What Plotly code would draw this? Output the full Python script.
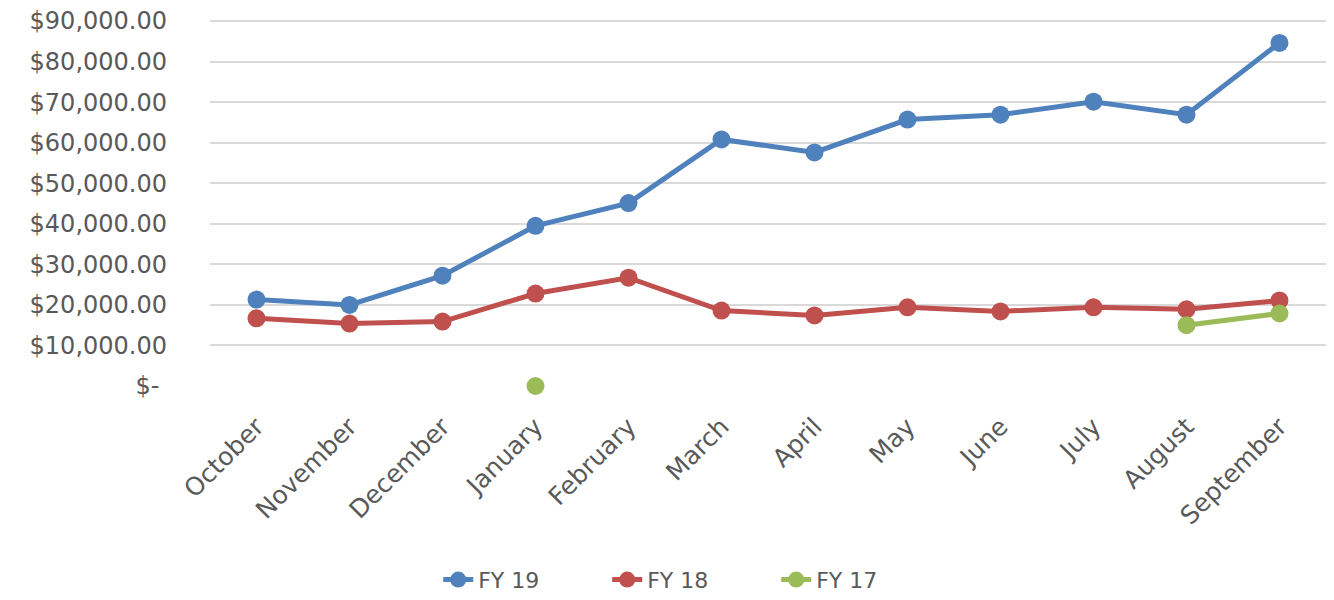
import plotly.graph_objects as go

months = ["October", "November", "December", "January", "February", "March",
          "April", "May", "June", "July", "August", "September"]
fy19 = [21300, 20000, 27200, 39500, 45100, 60800, 57600, 65700, 66900, 70100, 66900, 84600]
fy18 = [16700, 15400, 15900, 22800, 26700, 18600, 17400, 19400, 18400, 19400, 18900, 21100]
fy17 = [None, None, None, 0, None, None, None, None, None, None, 15000, 17900]

tick_vals = [0, 10000, 20000, 30000, 40000, 50000, 60000, 70000, 80000, 90000]
tick_text = ["$- ", "$10,000.00", "$20,000.00", "$30,000.00", "$40,000.00",
             "$50,000.00", "$60,000.00", "$70,000.00", "$80,000.00", "$90,000.00"]

series = [("FY 19", fy19, "#4F81BD"), ("FY 18", fy18, "#C0504D"), ("FY 17", fy17, "#9BBB59")]

fig = go.Figure()
for name, vals, color in series:
    fig.add_trace(go.Scatter(
        x=months, y=vals, name=name, mode="lines+markers",
        line=dict(color=color, width=5),
        marker=dict(color=color, size=18),
        cliponaxis=False, connectgaps=False,
    ))

fig.update_layout(
    width=1334, height=600,
    margin=dict(l=202, r=16, t=12, b=222, autoexpand=False),
    plot_bgcolor="white", paper_bgcolor="white",
    font=dict(family="DejaVu Sans", color="#595959", size=21),
    showlegend=True,
    legend=dict(orientation="h", xref="container", yref="container",
                x=0.3225, xanchor="left", y=0.047, yanchor="middle",
                font=dict(size=22, color="#595959"), entrywidth=124,
                entrywidthmode="pixels"),
    xaxis=dict(range=[-0.5, 11.5], tickangle=-45, showgrid=False, showline=False, ticks="",
               tickfont=dict(size=25, color="#595959"), automargin=False,
               ticklabelstandoff=20, ticklabeloverflow="allow"),
    yaxis=dict(range=[0, 90250], tickvals=tick_vals, ticktext=tick_text,
               showgrid=True, gridcolor="#D9D9D9", gridwidth=1.5,
               zeroline=False, showline=False, ticks="", automargin=False,
               tickfont=dict(size=24, color="#595959"), ticklabelstandoff=42,
               ticklabeloverflow="allow"),
)

fig.write_html("out.html")
